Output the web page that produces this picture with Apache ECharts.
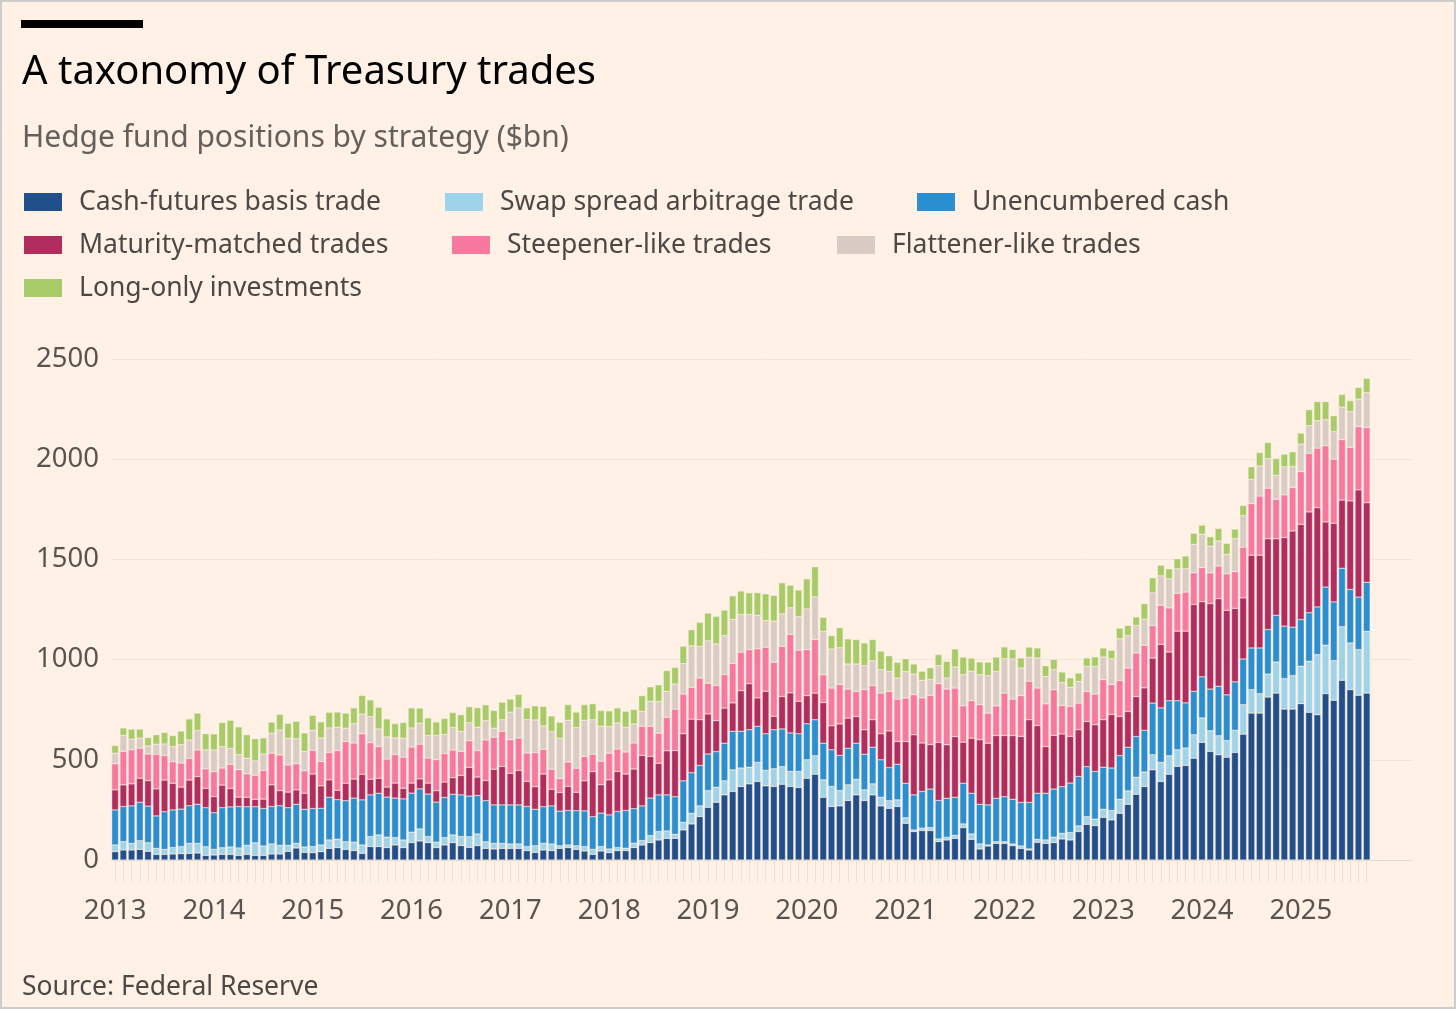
<!DOCTYPE html>
<html>
<head>
<meta charset="utf-8">
<script src="https://cdn.jsdelivr.net/npm/echarts@6/dist/echarts.min.js"></script>
<style>
html,body{margin:0;padding:0;background:#fff1e5;}
#chart{width:1456px;height:1009px;}
</style>
</head>
<body>
<div id="chart"></div>
<script>
// ---- Data (US$bn), monthly Jan 2013 – Sep 2025 ----
const yearLabels = ['2013','2014','2015','2016','2017','2018','2019','2020','2021','2022','2023','2024','2025'];
const seriesNames = ['Cash-futures basis trade','Swap spread arbitrage trade','Unencumbered cash','Maturity-matched trades','Steepener-like trades','Flattener-like trades','Long-only investments'];

const basisTrade = [
42,50,50,53,43,28,28,30,32,33,35,23,25,28,28,23,28,23,23,30,30,43,60,38,37,
42,58,62,53,47,33,67,67,62,75,62,87,95,87,62,75,87,72,63,72,58,55,58,58,58,47,
38,50,47,58,62,53,45,28,45,37,47,47,62,75,87,100,108,108,150,180,217,263,288,325,342,
367,380,392,370,367,378,367,362,408,428,313,267,270,297,325,297,325,270,258,267,183,142,147,147,92,100,
108,162,103,55,70,83,83,72,58,50,88,83,87,105,100,142,178,172,213,200,233,278,328,367,450,
392,428,467,472,508,587,542,525,513,537,628,733,733,813,833,753,753,780,737,725,830,797,897,850,822,833];

const swapSpread = [
33,42,33,43,43,30,25,32,35,50,48,43,28,33,37,37,45,63,47,50,43,30,23,27,30,
33,42,42,38,42,42,50,58,52,37,38,52,60,30,27,37,38,45,53,58,33,28,25,22,22,20,
33,33,33,13,13,18,22,25,22,18,15,12,22,22,35,42,37,20,38,53,53,83,75,70,108,
92,83,95,77,88,88,75,80,92,92,87,100,77,78,78,53,55,43,38,33,28,8,12,15,13,13,
15,18,27,25,5,8,8,8,12,5,15,17,27,28,37,28,38,32,40,47,70,67,85,72,75,
95,92,83,87,117,122,103,95,83,110,147,117,97,115,155,152,167,187,255,300,242,198,267,233,228,308];

const unencumberedCash = [
175,175,187,192,183,162,188,188,187,188,195,195,183,200,200,207,193,180,187,187,198,188,195,188,190,
183,213,197,205,220,225,208,208,200,197,205,195,200,212,200,200,203,208,203,192,205,192,192,195,195,200,
182,183,190,173,172,175,178,163,167,170,180,188,172,173,187,183,180,188,207,203,202,183,178,188,192,
183,187,180,183,195,188,192,188,180,180,183,183,175,183,180,178,183,187,165,178,172,175,183,192,192,195,
190,203,203,198,200,217,225,223,217,232,230,233,240,233,247,247,250,238,210,212,218,218,203,208,258,
272,275,245,225,217,205,208,247,228,242,228,208,228,222,233,262,242,233,242,238,290,293,292,267,262,245];

const maturityMatched = [
100,108,110,120,127,135,158,133,110,128,138,97,80,113,92,47,47,37,47,108,75,78,72,80,172,
112,87,47,87,95,128,78,75,50,75,53,50,50,55,57,77,83,97,143,92,100,178,192,158,172,125,
113,163,83,93,120,92,150,225,142,175,200,182,198,252,208,158,220,230,235,267,228,200,155,175,142,
203,230,142,212,67,162,200,162,140,133,203,120,157,150,133,122,137,130,183,113,208,300,242,222,290,267,
303,205,275,322,308,313,305,318,330,413,338,233,268,263,233,233,225,233,237,267,195,178,200,212,225,
317,243,347,358,433,375,427,437,422,367,305,463,463,453,382,442,480,475,503,495,325,392,340,442,535,397];

const steepenerLike = [
130,167,170,150,133,173,122,108,120,108,133,97,125,85,120,137,117,120,143,158,178,135,130,112,118,
122,137,198,208,180,202,183,158,140,142,155,180,173,125,155,142,138,120,133,132,203,160,175,167,162,142,
170,123,100,70,122,120,122,87,117,133,112,110,130,145,150,150,167,207,198,158,208,153,175,167,197,
192,170,245,220,270,250,292,255,230,267,138,188,197,145,125,200,170,203,197,212,217,200,225,245,293,278,
242,182,187,175,150,148,212,182,203,192,187,213,228,142,150,133,150,153,200,150,180,217,217,212,162,
195,220,188,195,158,170,153,163,182,183,253,257,295,252,197,213,217,263,292,297,380,320,302,267,315,375];

const flattenerLike = [
53,80,53,50,40,50,58,75,92,92,97,95,108,107,80,75,78,72,82,100,125,133,125,97,100,
117,122,117,67,97,98,130,88,110,83,95,95,105,112,120,95,112,100,90,117,97,45,58,138,150,167,
163,117,188,200,208,203,180,172,175,133,130,123,95,75,125,158,130,125,152,208,158,212,207,195,220,
188,175,167,133,205,162,133,167,203,213,217,195,183,125,137,120,125,117,100,105,133,103,88,80,90,55,
105,155,147,150,187,172,172,200,138,120,150,137,100,115,95,108,125,138,113,128,208,162,137,130,163,
147,145,123,117,142,167,133,125,97,165,158,122,150,148,120,140,105,137,138,137,130,137,162,178,138,175];

const longOnly = [
38,37,50,45,42,47,57,55,67,105,87,80,80,120,140,138,117,110,80,55,78,75,87,92,75,
80,78,75,75,78,93,83,108,90,72,78,100,75,88,68,80,75,83,80,97,78,88,87,65,67,58,
70,97,78,80,78,77,78,80,78,78,75,80,72,78,72,83,103,83,87,80,120,138,138,127,117,
117,108,113,133,128,155,112,133,150,150,70,67,100,125,122,113,105,92,78,78,63,50,45,58,55,83,
90,87,65,63,67,72,58,47,50,50,50,53,50,52,47,42,42,47,45,43,53,50,43,78,75,
53,50,50,63,55,45,47,62,55,47,50,62,67,80,83,63,73,55,80,95,90,80,63,55,58,70];

const yTicks = [0, 500, 1000, 1500, 2000, 2500];

// ---- Build monthly categories (data months + a few empty months of axis room) ----
const nData = basisTrade.length;
const categories = [];
for (let y = 2013; y <= 2026; y++) {
  for (let m = 1; m <= 12; m++) {
    categories.push(y + '-' + String(m).padStart(2, '0'));
  }
}
const nCats = nData + 5;
categories.length = nCats;

const FONT = 'Noto Sans';
const BG = '#fff1e5';
const colors = ['#204f8c', '#9dd4ea', '#2a8fd0', '#b22d5f', '#f7799f', '#d8ccc4', '#a6cb67'];
const values = [basisTrade, swapSpread, unencumberedCash, maturityMatched, steepenerLike, flattenerLike, longOnly];

const legendPos = [
  [22, 187], [443, 187], [915, 187],
  [22, 230], [450, 230], [835, 230],
  [22, 273]
];

const chart = echarts.init(document.getElementById('chart'), null, {renderer: 'canvas'});

const option = {
  backgroundColor: BG,
  animation: false,
  textStyle: {fontFamily: FONT},
  graphic: [
    {type: 'rect', shape: {x: 1, y: 1, width: 1454, height: 1007}, style: {fill: 'none', stroke: '#cccccc', lineWidth: 2}, silent: true},
    {type: 'rect', shape: {x: 21, y: 20, width: 122, height: 8}, style: {fill: '#000000'}},
    {type: 'text', left: 22, top: 53, style: {text: 'A taxonomy of Treasury trades', font: '40px "Noto Sans"', fill: '#000000'}},
    {type: 'text', left: 22, top: 123, style: {text: 'Hedge fund positions by strategy ($bn)', font: '30px "Noto Sans"', fill: '#66605c'}},
    {type: 'text', left: 22, top: 974, style: {text: 'Source: Federal Reserve', font: '26.5px "Noto Sans"', fill: '#4d4845'}}
  ],
  legend: seriesNames.map((name, i) => ({
    data: [name],
    left: legendPos[i][0],
    top: legendPos[i][1],
    padding: 0,
    itemWidth: 40,
    itemHeight: 20,
    icon: 'rect',
    selectedMode: false,
    textStyle: {fontFamily: FONT, fontSize: 26.5, color: '#4d4845', lineHeight: 30, padding: [0, 0, 0, 11]}
  })),
  grid: {left: 111, right: 44, top: 359, bottom: 149, containLabel: false},
  xAxis: {
    type: 'category',
    data: categories,
    boundaryGap: true,
    axisLine: {show: true, lineStyle: {color: '#e8dacd', width: 1}},
    axisTick: {
      show: true,
      alignWithLabel: true,
      length: 22,
      interval: (idx) => idx < nData,
      lineStyle: {color: '#ecdfd3', width: 1}
    },
    axisLabel: {
      interval: (idx) => idx % 12 === 0 && idx < nData,
      formatter: (v) => yearLabels.includes(v.slice(0, 4)) ? v.slice(0, 4) : '',
      fontFamily: FONT,
      fontSize: 27.5,
      color: '#5a5450',
      margin: 37
    },
    splitLine: {show: false}
  },
  yAxis: {
    type: 'value',
    min: yTicks[0],
    max: yTicks[yTicks.length - 1],
    interval: 500,
    axisLine: {show: false},
    axisTick: {show: false},
    axisLabel: {fontFamily: FONT, fontSize: 27.5, color: '#5a5450', margin: 12, formatter: (v) => String(v)},
    splitLine: {show: true, lineStyle: {color: '#f2e4d8', width: 1}}
  },
  series: seriesNames.map((name, i) => ({
    name: name,
    type: 'bar',
    stack: 'total',
    data: values[i],
    barCategoryGap: '18%',
    itemStyle: {color: colors[i], borderColor: BG, borderWidth: 0.4},
    emphasis: {disabled: true}
  }))
};

chart.setOption(option);
</script>
</body>
</html>
